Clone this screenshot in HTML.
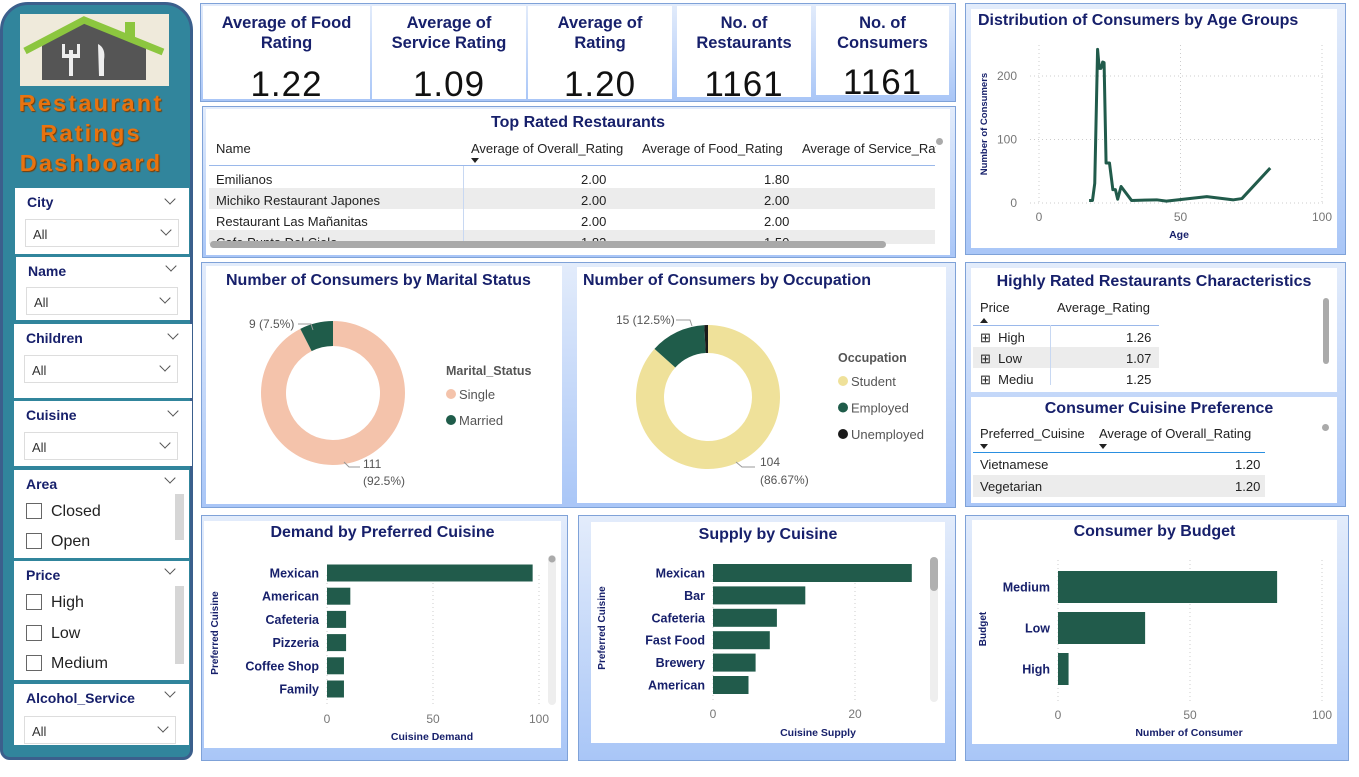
<!DOCTYPE html>
<html><head><meta charset="utf-8">
<style>
*{box-sizing:border-box;margin:0;padding:0}
body{width:1359px;height:777px;background:#fff;position:relative;overflow:hidden;font-family:"Liberation Sans",sans-serif;color:#222}
.abs{position:absolute}
.panel{position:absolute;background:linear-gradient(180deg,#e3ecfb 0%,#a9c6f7 100%);border:1px solid #7fa2d8}
.card{position:absolute;background:#fff}
.ttl{position:absolute;font-weight:bold;color:#17206b;text-align:center;font-size:16px;white-space:nowrap;line-height:20px}
.kt{font-weight:bold;color:#17206b;font-size:16.5px;text-align:center;line-height:20px;margin-top:7px}
.kv{font-size:35px;text-align:center;color:#111;margin-top:12px;letter-spacing:1px}
.slicer{position:absolute;background:#fff;left:15px;width:174px}
.sl-lab{position:absolute;left:12px;top:6px;font-weight:bold;color:#17206b;font-size:14px}
.chev{position:absolute;width:8px;height:8px;border-right:1.3px solid #555;border-bottom:1.3px solid #555;transform:rotate(45deg)}
.dd{position:absolute;left:10px;width:154px;height:28px;border:1px solid #ddd;font-size:13px;color:#333;padding:7px 0 0 7px}
.cb{position:absolute;left:12px;font-size:16px;color:#222}
.cb span{display:inline-block;width:16px;height:16px;border:1px solid #666;vertical-align:-3px;margin-right:9px}
.tbl{position:absolute;font-size:13px;color:#222}
</style></head><body>

<!-- Sidebar -->
<div class="abs" style="left:0;top:2px;width:193px;height:758px;background:#31859c;border:3px solid #3b5f8c;border-radius:28px 28px 10px 10px"></div>
<svg class="abs" style="left:20px;top:14px" width="149" height="72">
<rect width="149" height="72" fill="#efeadb"/>
<polygon points="22,32 62,8 126,32 126,66 22,66" fill="#555"/>
<polyline points="5,37 64,6 143,38" fill="none" stroke="#8cc63f" stroke-width="7"/>
<rect x="105" y="8" width="10" height="18" fill="#8cc63f"/>
<rect x="49" y="36" width="4" height="26" fill="#eee"/><rect x="42" y="30" width="3" height="12" fill="#eee"/><rect x="57" y="30" width="3" height="12" fill="#eee"/><rect x="42" y="40" width="18" height="4" fill="#eee"/>
<path d="M78 30 Q86 34 84 46 L84 62 L79 62 Z" fill="#eee"/>
</svg>
<div class="abs" style="left:0;top:88px;width:182px;text-align:center;font-weight:bold;font-size:23.5px;line-height:30px;color:#e8730f;letter-spacing:2.2px;text-shadow:1px 1px 1px #7a3b00">Restaurant<br>Ratings<br>Dashboard</div>

<div class="slicer" style="top:188px;height:66px"><div class="sl-lab">City</div><div class="chev" style="right:15px;top:7px"></div><div class="dd" style="top:31px">All<div class="chev" style="right:8px;top:6px"></div></div></div>
<div class="slicer" style="top:257px;height:63px;left:16px"><div class="sl-lab">Name</div><div class="chev" style="right:15px;top:5px"></div><div class="dd" style="top:30px;width:152px">All<div class="chev" style="right:8px;top:6px"></div></div></div>
<div class="slicer" style="top:324px;height:74px;left:14px;width:178px"><div class="sl-lab">Children</div><div class="chev" style="right:15px;top:6px"></div><div class="dd" style="top:31px">All<div class="chev" style="right:8px;top:6px"></div></div></div>
<div class="slicer" style="top:401px;height:65px;left:14px;width:178px"><div class="sl-lab">Cuisine</div><div class="chev" style="right:15px;top:6px"></div><div class="dd" style="top:31px">All<div class="chev" style="right:8px;top:6px"></div></div></div>
<div class="slicer" style="top:470px;height:88px;left:14px;width:175px"><div class="sl-lab">Area</div><div class="chev" style="right:15px;top:4px"></div>
<div class="cb" style="top:33px"><span></span>Closed</div>
<div class="cb" style="top:63px"><span></span>Open</div>
<div class="abs" style="left:161px;top:24px;width:9px;height:46px;background:#d6d6d6"></div></div>
<div class="slicer" style="top:561px;height:119px;left:14px;width:175px"><div class="sl-lab">Price</div><div class="chev" style="right:15px;top:4px"></div>
<div class="cb" style="top:33px"><span></span>High</div>
<div class="cb" style="top:64px"><span></span>Low</div>
<div class="cb" style="top:94px"><span></span>Medium</div>
<div class="abs" style="left:161px;top:25px;width:9px;height:78px;background:#d6d6d6"></div></div>
<div class="slicer" style="top:684px;height:61px;left:14px;width:175px"><div class="sl-lab">Alcohol_Service</div><div class="chev" style="right:15px;top:4px"></div><div class="dd" style="top:32px;width:152px">All<div class="chev" style="right:8px;top:6px"></div></div></div>

<!-- KPI row -->
<div class="panel" style="left:200px;top:3px;width:756px;height:99px"></div>
<div class="card" style="left:203px;top:6px;width:167px;height:93px"><div class="kt">Average of Food<br>Rating</div><div class="kv">1.22</div></div>
<div class="card" style="left:372px;top:6px;width:154px;height:93px"><div class="kt">Average of<br>Service Rating</div><div class="kv">1.09</div></div>
<div class="card" style="left:528px;top:6px;width:144px;height:93px"><div class="kt">Average of<br>Rating</div><div class="kv">1.20</div></div>
<div class="card" style="left:677px;top:6px;width:134px;height:91px"><div class="kt">No. of<br>Restaurants</div><div class="kv">1161</div></div>
<div class="card" style="left:816px;top:6px;width:133px;height:89px"><div class="kt">No. of<br>Consumers</div><div class="kv" style="margin-top:10px">1161</div></div>

<!-- Top rated table -->
<div class="panel" style="left:202px;top:106px;width:754px;height:152px"></div>
<div class="card" style="left:206px;top:109px;width:744px;height:146px">
<div class="ttl" style="left:0;width:744px;top:4px">Top Rated Restaurants</div>
<div class="tbl" style="left:10px;top:32px">Name</div>
<div class="tbl" style="left:265px;top:32px">Average of Overall_Rating</div>
<div class="tbl" style="left:436px;top:32px">Average of Food_Rating</div>
<div class="tbl" style="left:596px;top:32px;width:134px;overflow:hidden;white-space:nowrap">Average of Service_Rating</div>
<div class="abs" style="left:265px;top:49px;border-left:4px solid transparent;border-right:4px solid transparent;border-top:5px solid #222"></div>
<div class="abs" style="left:730px;top:29px;width:7px;height:7px;border-radius:50%;background:#aaa"></div>
<div class="abs" style="left:3px;top:56px;width:726px;height:1px;background:#9ab8ea"></div>
<div class="abs" style="left:3px;top:79px;width:726px;height:21px;background:#ececec"></div>
<div class="abs" style="left:3px;top:121px;width:726px;height:14px;background:#ececec"></div>
<div class="abs" style="left:257px;top:57px;width:1px;height:78px;background:#c8d8f2"></div>
<div class="tbl" style="left:10px;top:63px">Emilianos</div><div class="tbl" style="left:375px;top:63px">2.00</div><div class="tbl" style="left:558px;top:63px">1.80</div>
<div class="tbl" style="left:10px;top:84px">Michiko Restaurant Japones</div><div class="tbl" style="left:375px;top:84px">2.00</div><div class="tbl" style="left:558px;top:84px">2.00</div>
<div class="tbl" style="left:10px;top:105px">Restaurant Las Mañanitas</div><div class="tbl" style="left:375px;top:105px">2.00</div><div class="tbl" style="left:558px;top:105px">2.00</div>
<div class="abs" style="left:0;top:124px;width:744px;height:10px;overflow:hidden"><div class="tbl" style="left:10px;top:2px">Cafe Punta Del Cielo</div><div class="tbl" style="left:375px;top:2px">1.83</div><div class="tbl" style="left:558px;top:2px">1.50</div></div>
<div class="abs" style="left:4px;top:132px;width:676px;height:7px;border-radius:4px;background:#a9a9a9"></div>
</div>

<!-- Donut panels -->
<div class="panel" style="left:201px;top:262px;width:755px;height:246px"></div>
<div class="card" style="left:206px;top:266px;width:356px;height:238px"><div class="ttl" style="left:20px;top:5px">Number of Consumers by Marital Status</div></div>
<div class="card" style="left:577px;top:267px;width:369px;height:236px"><div class="ttl" style="left:6px;top:4px">Number of Consumers by Occupation</div></div>

<!-- Age -->
<div class="panel" style="left:965px;top:3px;width:381px;height:252px"></div>
<div class="card" style="left:971px;top:9px;width:366px;height:239px"><div class="ttl" style="left:7px;top:2px">Distribution of Consumers by Age Groups</div></div>

<!-- Characteristics -->
<div class="panel" style="left:965px;top:262px;width:381px;height:245px"></div>
<div class="card" style="left:971px;top:268px;width:366px;height:124px">
<div class="ttl" style="left:0;width:366px;top:4px">Highly Rated Restaurants Characteristics</div>
<div class="tbl" style="left:9px;top:32px">Price</div><div class="tbl" style="left:86px;top:32px">Average_Rating</div>
<div class="abs" style="left:9px;top:50px;border-left:4px solid transparent;border-right:4px solid transparent;border-bottom:5px solid #222"></div>
<div class="abs" style="left:2px;top:57px;width:186px;height:1px;background:#9ab8ea"></div>
<div class="abs" style="left:2px;top:79px;width:186px;height:21px;background:#ececec"></div>
<div class="abs" style="left:79px;top:57px;width:1px;height:60px;background:#c8d8f2"></div>
<div class="tbl" style="left:9px;top:62px">⊞&nbsp; High</div><div class="tbl" style="left:155px;top:62px">1.26</div>
<div class="tbl" style="left:9px;top:83px">⊞&nbsp; Low</div><div class="tbl" style="left:155px;top:83px">1.07</div>
<div class="tbl" style="left:9px;top:104px">⊞&nbsp; Mediu</div><div class="tbl" style="left:155px;top:104px">1.25</div>
<div class="abs" style="left:352px;top:30px;width:6px;height:66px;border-radius:3px;background:#aaa"></div>
</div>
<div class="card" style="left:971px;top:397px;width:366px;height:106px">
<div class="ttl" style="left:0;width:366px;top:2px;padding-left:10px">Consumer Cuisine Preference</div>
<div class="tbl" style="left:9px;top:29px">Preferred_Cuisine</div><div class="tbl" style="left:128px;top:29px">Average of Overall_Rating</div>
<div class="abs" style="left:9px;top:47px;border-left:4px solid transparent;border-right:4px solid transparent;border-top:5px solid #222"></div>
<div class="abs" style="left:128px;top:47px;border-left:4px solid transparent;border-right:4px solid transparent;border-top:5px solid #222"></div>
<div class="abs" style="left:2px;top:55px;width:292px;height:1px;background:#2a8fe0"></div>
<div class="abs" style="left:2px;top:78px;width:292px;height:22px;background:#ececec"></div>
<div class="tbl" style="left:9px;top:60px">Vietnamese</div><div class="tbl" style="left:264px;top:60px">1.20</div>
<div class="tbl" style="left:9px;top:82px">Vegetarian</div><div class="tbl" style="left:264px;top:82px">1.20</div>
<div class="abs" style="left:351px;top:27px;width:7px;height:7px;border-radius:50%;background:#aaa"></div>
</div>

<!-- Bottom panels -->
<div class="panel" style="left:201px;top:515px;width:367px;height:246px"></div>
<div class="card" style="left:204px;top:521px;width:357px;height:227px"><div class="ttl" style="left:0;width:357px;top:2px">Demand by Preferred Cuisine</div></div>
<div class="panel" style="left:578px;top:515px;width:378px;height:246px"></div>
<div class="card" style="left:591px;top:522px;width:354px;height:221px"><div class="ttl" style="left:0;width:354px;top:3px">Supply by Cuisine</div></div>
<div class="panel" style="left:965px;top:515px;width:384px;height:246px"></div>
<div class="card" style="left:972px;top:520px;width:365px;height:224px"><div class="ttl" style="left:0;width:365px;top:2px">Consumer by Budget</div></div>

<svg id="charts" class="abs" style="left:0;top:0;pointer-events:none" width="1359" height="777" font-family="Liberation Sans, sans-serif"></svg>

<script>
// Age chart data
const ageValues = [17.7,18.9,19.7,20.7,21.3,21.9,22.5,23,23.7,24.9,26.1,27,27.8,29,32.7,41.6,45,59.3,68.7,71.7,81.7];
const ageCounts = [4,4,31,242,212,212,222,221,63,63,21,21,6,26,4,5,3,10,5,7,55];
const ageXTicks = [0,50,100];
const ageYTicks = [0,100,200];
// Marital
const maritalLabels = ["Single","Married"];
const maritalValues = [111,9];
const maritalColors = ["#f4c3ab","#1f5c4a"];
// Occupation
const occLabels = ["Student","Employed","Unemployed"];
const occValues = [104,15,1];
const occColors = ["#efe19a","#1f5c4a","#1a1a1a"];
// Demand
const demandCats = ["Mexican","American","Cafeteria","Pizzeria","Coffee Shop","Family"];
const demandVals = [97,11,9,9,8,8];
const demandTicks = [0,50,100];
// Supply
const supplyCats = ["Mexican","Bar","Cafeteria","Fast Food","Brewery","American"];
const supplyVals = [28,13,9,8,6,5];
const supplyTicks = [0,20];
// Budget
const budgetCats = ["Medium","Low","High"];
const budgetVals = [83,33,4];
const budgetTicks = [0,50,100];

const svg = document.getElementById('charts');
const NS = 'http://www.w3.org/2000/svg';
function mk(tag, attrs, parent){const e=document.createElementNS(NS,tag);for(const k in attrs)e.setAttribute(k,attrs[k]);(parent||svg).appendChild(e);return e;}
function txt(x,y,s,attrs,parent){const t=mk('text',Object.assign({x:x,y:y},attrs),parent);t.textContent=s;return t;}
const GREEN='#215b4b', NAVY='#17206b', TICK='#777';

// ---- Age line chart
(function(){
  const g=mk('g',{});
  
  
  const x=v=>1039+(v-0)*(1322-1039)/100;
  const y=v=>203-v*(203-76)/200;
  ageXTicks.forEach(t=>{
    const l=mk('line',{x1:x(t),x2:x(t),y1:45,y2:203,stroke:'#ccc','stroke-dasharray':'1,3'},g);
    
    const tt=txt(x(t),221,String(t),{'font-size':12,fill:TICK,'text-anchor':'middle'},g);
    
  });
  ageYTicks.forEach(t=>{
    const l=mk('line',{x1:1030,x2:1325,y1:y(t),y2:y(t),stroke:'#ccc','stroke-dasharray':'1,3'},g);
    
    const tt=txt(1017,y(t)+4,String(t),{'font-size':12,fill:TICK,'text-anchor':'end'},g);
    
  });
  const pts=ageValues.map((a,i)=>x(a)+','+y(ageCounts[i])).join(' ');
  const pl=mk('polyline',{points:pts,fill:'none',stroke:GREEN,'stroke-width':3,'stroke-linejoin':'round'},g);
  
  const xt=txt(1179,238,'Age',{'font-size':10.5,'font-weight':'bold',fill:NAVY,'text-anchor':'middle'},g);
  
  const yt=txt(0,0,'Number of Consumers',{'font-size':9.5,'font-weight':'bold',fill:NAVY,'text-anchor':'middle',transform:'translate(987,124) rotate(-90)'},g);
  
})();

// ---- Donuts
function donut(cx,cy,R,r,vals,cols,name){
  const g=mk('g',{});
  
  
  const tot=vals.reduce((a,b)=>a+b,0);let a0=0;
  vals.forEach((v,i)=>{
    const a1=a0+v/tot*2*Math.PI;
    const p=(a,rr)=>[cx+rr*Math.sin(a),cy-rr*Math.cos(a)];
    const big=(a1-a0)>Math.PI?1:0;
    const [x0,y0]=p(a0,R),[x1,y1]=p(a1,R),[x2,y2]=p(a1,r),[x3,y3]=p(a0,r);
    const path=mk('path',{d:`M${x0},${y0} A${R},${R} 0 ${big} 1 ${x1},${y1} L${x2},${y2} A${r},${r} 0 ${big} 0 ${x3},${y3} Z`,fill:cols[i]},g);
    
    
    a0=a1;
  });
  return g;
}
donut(333,393,72,47,maritalValues,maritalColors,'marital-donut');
donut(708,397,72,44,occValues,occColors,'occupation-donut');
function lab(x,y,s,name,anchor){const t=txt(x,y,s,{'font-size':12,fill:'#555','text-anchor':anchor||'start'});return t;}
mk('polyline',{points:'298,324 311,324 313,330',fill:'none',stroke:'#999'});
lab(249,328,maritalValues[1]+' (7.5%)','married-data-label');
mk('polyline',{points:'344,462 349,467 360,467',fill:'none',stroke:'#999'});
lab(363,468,String(maritalValues[0]),'single-data-label');
lab(363,485,'(92.5%)','single-pct-label');
mk('polyline',{points:'676,320 690,320 692,326',fill:'none',stroke:'#999'});
lab(616,324,occValues[1]+' (12.5%)','employed-data-label');
mk('polyline',{points:'736,462 742,467 755,467',fill:'none',stroke:'#999'});
lab(760,466,String(occValues[0]),'student-data-label');
lab(760,484,'(86.67%)','student-pct-label');
function legend(x,y,title,labels,cols,gap,name){
  const t=txt(x,y,title,{'font-size':12.5,'font-weight':'bold',fill:'#555'});
  
  labels.forEach((l,i)=>{
    const c=mk('circle',{cx:x+5,cy:y+19+i*gap,r:5,fill:cols[i]});
    
    const lt=txt(x+13,y+24+i*gap,l,{'font-size':13,fill:'#555'});
    
  });
}
legend(446,375,'Marital_Status',maritalLabels,maritalColors,26,'marital-legend');
legend(838,362,'Occupation',occLabels,occColors,26.5,'occupation-legend');

// ---- Horizontal bars
function hbars(o){
  const g=mk('g',{});
  
  
  const x=v=>o.x0+v*o.k;
  o.ticks.forEach(t=>{
    const l=mk('line',{x1:x(t),x2:x(t),y1:o.gt,y2:o.gb,stroke:'#ccc','stroke-dasharray':'1,3'},g);
    
    const tt=txt(x(t),o.ty,String(t),{'font-size':12,fill:TICK,'text-anchor':'middle'},g);
    
  });
  o.cats.forEach((c,i)=>{
    const cy=o.y0+i*o.step;
    const r=mk('rect',{x:o.x0,y:cy-o.bh/2,width:Math.max(0,x(o.vals[i])-o.x0),height:o.bh,fill:GREEN},g);
    
    
    const ct=txt(o.x0-8,cy+4.5,c,{'font-size':12.5,'font-weight':'bold',fill:NAVY,'text-anchor':'end'},g);
    
  });
  const xt=txt(o.xtx,o.xty,o.xtitle,{'font-size':10.5,'font-weight':'bold',fill:NAVY,'text-anchor':'middle'},g);
  
  const yt=txt(0,0,o.ytitle,{'font-size':10,'font-weight':'bold',fill:NAVY,'text-anchor':'middle',transform:`translate(${o.ytx},${o.yty}) rotate(-90)`},g);
  
}
hbars({name:'demand-bar-chart',cats:demandCats,vals:demandVals,ticks:demandTicks,x0:327,k:2.12,y0:573,step:23.2,bh:17,gt:575,gb:705,ty:723,xtx:432,xty:740,xtitle:'Cuisine Demand',ytitle:'Preferred Cuisine',ytx:218,yty:633});
hbars({name:'supply-bar-chart',cats:supplyCats,vals:supplyVals,ticks:supplyTicks,x0:713,k:7.1,y0:573,step:22.4,bh:18,gt:575,gb:702,ty:718,xtx:818,xty:736,xtitle:'Cuisine Supply',ytitle:'Preferred Cuisine',ytx:605,yty:628});
hbars({name:'budget-bar-chart',cats:budgetCats,vals:budgetVals,ticks:budgetTicks,x0:1058,k:2.64,y0:587,step:41,bh:32,gt:560,gb:703,ty:719,xtx:1189,xty:736,xtitle:'Number of Consumer',ytitle:'Budget',ytx:986,yty:629});
// scrollbars
const s1=mk('rect',{x:548,y:555,width:8,height:150,rx:4,fill:'#eee'});
mk('circle',{cx:552,cy:559,r:3.5,fill:'#aaa'});
const s2=mk('rect',{x:930,y:557,width:8,height:145,rx:4,fill:'#eee'});
mk('rect',{x:930,y:557,width:8,height:34,rx:4,fill:'#b0b0b0'});
</script>
</body></html>
